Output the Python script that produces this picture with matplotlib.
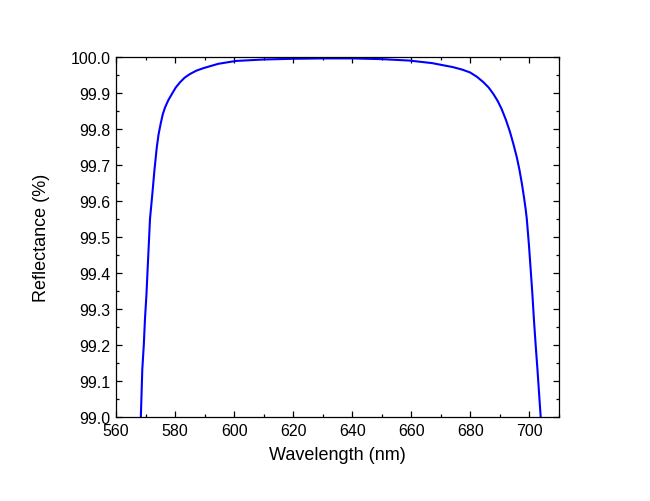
import matplotlib
matplotlib.use('Agg')
from matplotlib import pyplot as plt
from matplotlib.ticker import MultipleLocator, FormatStrFormatter

plt.rcParams['font.family'] = ['Liberation Sans', 'DejaVu Sans']

# curva de refletância (nm, %)
comprimento = [568.4, 568.9, 569.4, 569.8, 570.3, 570.7, 571.1, 571.5, 572.3,
               573.0, 573.8, 574.4, 575.1, 575.8, 576.6, 577.7, 578.9, 580.2,
               581.7, 583.3, 585.1, 587.2, 589.6, 594.6, 600.6, 610.0, 620.0,
               630.0, 640.0, 650.0, 659.4, 667.0, 674.0, 677.2, 679.9, 682.2,
               684.4, 686.2, 687.8, 689.3, 690.6, 692.0, 693.4, 694.6, 695.7,
               696.6, 697.4, 698.1, 698.7, 699.1, 699.8, 700.4, 701.0, 701.5,
               702.1, 702.7, 703.3, 703.8]
refletancia = [99.0, 99.133, 99.2, 99.272, 99.34, 99.411, 99.48, 99.55, 99.62,
               99.685, 99.749, 99.785, 99.814, 99.84, 99.86, 99.88, 99.897, 99.915,
               99.93, 99.943, 99.953, 99.962, 99.969, 99.981, 99.989, 99.993, 99.995,
               99.996, 99.996, 99.994, 99.99, 99.983, 99.972, 99.965, 99.957, 99.945,
               99.93, 99.915, 99.897, 99.877, 99.855, 99.826, 99.792, 99.757, 99.722,
               99.687, 99.65, 99.613, 99.578, 99.55, 99.48, 99.411, 99.34, 99.272,
               99.2, 99.133, 99.06, 99.0]

fig = plt.figure(figsize=(6.5, 5.02), dpi=100)
ax = fig.add_axes([0.1785, 0.167, 0.6815, 0.7175])
ax.plot(comprimento, refletancia, color='#0000ff', lw=1.5)

ax.set_xlim(560, 710)
ax.set_ylim(99.0, 100.0)
ax.xaxis.set_major_locator(MultipleLocator(20))
ax.xaxis.set_minor_locator(MultipleLocator(10))
ax.yaxis.set_major_locator(MultipleLocator(0.1))
ax.yaxis.set_minor_locator(MultipleLocator(0.05))
ax.yaxis.set_major_formatter(FormatStrFormatter('%.1f'))

ax.tick_params(which='both', direction='in', top=True, right=True,
               width=0.9, labelsize=11.5, pad=4)
ax.tick_params(which='major', length=4)
ax.tick_params(which='minor', length=2.5)
for s in ax.spines.values():
    s.set_linewidth(0.9)

ax.set_xlabel('Wavelength (nm)', fontsize=13, labelpad=6)
ax.set_ylabel('Reflectance (%)', fontsize=13, labelpad=15)

fig.savefig('out.png', dpi=100)
